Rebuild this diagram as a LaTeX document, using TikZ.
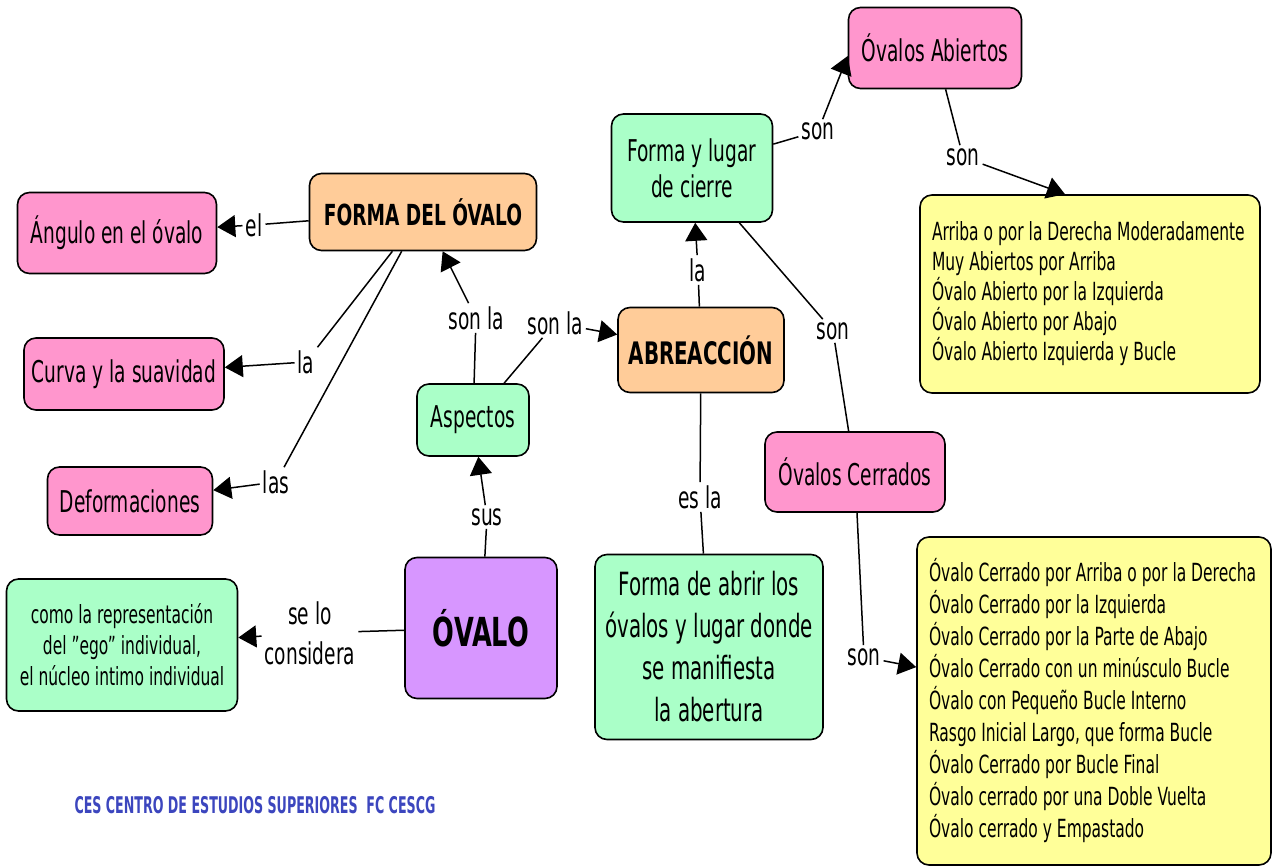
\documentclass[tikz,border=0pt]{standalone}
\usepackage{fontspec}
\setmainfont[FakeStretch = 0.62, BoldFeatures = {FakeStretch = 0.64}]{DejaVu Sans}
\newfontfamily\cesfont[FakeStretch = 0.55]{DejaVu Sans}
\usepackage{tikz}
\usetikzlibrary{arrows.meta}
\definecolor{cpink}{RGB}{255,150,205}
\definecolor{corange}{RGB}{255,204,153}
\definecolor{cgreen}{RGB}{170,255,200}
\definecolor{cpurple}{RGB}{215,150,255}
\definecolor{cyellow}{RGB}{255,255,153}
\definecolor{cblue}{RGB}{60,70,190}
\tikzset{box/.style = {draw, rounded corners = 12pt, line width = 1.6pt, inner sep = 0, align = center, font = \fontsize{30}{36}\selectfont}}
\tikzset{pinkbox/.style = {box, fill = cpink}}
\tikzset{orangebox/.style = {box, fill = corange, font = \fontsize{29}{34}\selectfont\bfseries}}
\tikzset{greenbox/.style = {box, fill = cgreen}}
\tikzset{listbox/.style = {box, fill = cyellow, align = flush left, font = \fontsize{25}{30}\selectfont}}
\tikzset{lbl/.style = {inner sep = 3pt, align = center, font = \fontsize{30}{40}\selectfont}}
\tikzset{link/.style = {line width = 1.5pt}}
\tikzset{tolink/.style = {link, -{Triangle[length = 18pt, width = 22pt]}}}

\begin{document}
\begin{tikzpicture}[x = 1pt, y = -1pt]
      \useasboundingbox (0, 0) rectangle (1274, 867);

      \node [pinkbox, minimum width = 199pt, minimum height = 81pt] (angulo) at (117, 233) {Ángulo en el óvalo};
      \node [orangebox, minimum width = 227pt, minimum height = 77pt] (forma) at (423, 212) {FORMA DEL ÓVALO};
      \node [pinkbox, minimum width = 200pt, minimum height = 72pt] (curva) at (124, 374) {Curva y la suavidad};
      \node [pinkbox, minimum width = 165pt, minimum height = 68pt] (deform) at (130, 501) {Deformaciones};
      \node [greenbox, minimum width = 112pt, minimum height = 72pt] (aspectos) at (473, 420) {Aspectos};
      \node [box, fill = cpurple, minimum width = 152pt, minimum height = 141pt, font = \fontsize{40}{46}\selectfont\bfseries] (ovalo) at (481, 628) {ÓVALO};
      \node [greenbox, minimum width = 231pt, minimum height = 132pt, font = \fontsize{25}{31}\selectfont] (ego) at (122, 645) {como la representación\\del "ego" individual,\\el núcleo intimo individual};
      \node [orangebox, minimum width = 166pt, minimum height = 85pt, font = \fontsize{31}{36}\selectfont\bfseries] (abre) at (701, 350) {ABREACCIÓN};
      \node [pinkbox, minimum width = 173pt, minimum height = 81pt] (abiertos) at (935, 48) {Óvalos Abiertos};
      \node [greenbox, minimum width = 161pt, minimum height = 108pt] (cierre) at (692, 168) {Forma y lugar\\de cierre};
      \node [pinkbox, minimum width = 180pt, minimum height = 80pt] (cerrados) at (855, 472) {Óvalos Cerrados};
      \node [greenbox, minimum width = 228pt, minimum height = 185pt, font = \fontsize{32}{42}\selectfont] (abrir) at (709, 647) {Forma de abrir los\\óvalos y lugar donde\\se manifiesta\\la abertura};
      \node [listbox, inner xsep = 12pt, text width = 316pt, minimum height = 198pt] (listab) at (1090, 294) {Arriba o por la Derecha Moderadamente\\Muy Abiertos por Arriba\\Óvalo Abierto por la Izquierda\\Óvalo Abierto por Abajo\\Óvalo Abierto Izquierda y Bucle};
      \node [listbox, inner xsep = 12pt, text width = 330pt, minimum height = 328pt, font = \fontsize{25}{32}\selectfont] (listcer) at (1094, 701) {Óvalo Cerrado por Arriba o por la Derecha\\Óvalo Cerrado por la Izquierda\\Óvalo Cerrado por la Parte de Abajo\\Óvalo Cerrado con un minúsculo Bucle\\Óvalo con Pequeño Bucle Interno\\Rasgo Inicial Largo, que forma Bucle\\Óvalo Cerrado por Bucle Final\\Óvalo cerrado por una Doble Vuelta\\Óvalo cerrado y Empastado};
      \node [text = cblue, font = \fontsize{23}{28}\selectfont\cesfont\bfseries] (ces) at (255, 805) {CES CENTRO DE ESTUDIOS SUPERIORES\ \ FC CESCG};

      \node [lbl] (lel) at (254, 225) {el};
      \node [lbl] (llacurva) at (306, 362) {la};
      \node [lbl] (llas) at (276, 482) {las};
      \node [lbl] (lsonforma) at (476, 318) {son la};
      \node [lbl] (lsonabre) at (555, 323) {son la};
      \node [lbl] (lsus) at (487, 517) {sus};
      \node [lbl] (lse) at (310, 633) {se lo\\considera};
      \node [lbl] (llacierre) at (698, 270) {la};
      \node [lbl] (lsonab) at (818, 131) {son};
      \node [lbl] (lsonlist) at (963, 157) {son};
      \node [lbl] (lsonce) at (833, 331) {son};
      \node [lbl] (lesla) at (700, 497) {es la};
      \node [lbl] (lsoncer) at (864, 657) {son};

      \draw [link] (forma) -- (lel);
      \draw [tolink] (lel) -- (angulo);
      \draw [link] (forma) -- (llacurva);
      \draw [tolink] (llacurva) -- (curva);
      \draw [link] (forma) -- (llas);
      \draw [tolink] (llas) -- (deform);
      \draw [link] (aspectos) -- (lsonforma);
      \draw [tolink] (lsonforma) -- (forma);
      \draw [link] (aspectos) -- (lsonabre);
      \draw [tolink] (lsonabre) -- (abre);
      \draw [link] (ovalo) -- (lsus);
      \draw [tolink] (lsus) -- (aspectos);
      \draw [link] (ovalo) -- (lse);
      \draw [tolink] (lse) -- (ego);
      \draw [link] (abre) -- (llacierre);
      \draw [tolink] (llacierre) -- (cierre);
      \draw [link] (cierre) -- (lsonab);
      \draw [tolink] (lsonab) -- ([yshift = -8pt] abiertos.west);
      \draw [link] (abiertos) -- (lsonlist);
      \draw [tolink] (lsonlist) -- ([xshift = -25pt] listab.north);
      \draw [link] (cierre) -- (lsonce);
      \draw [link] (lsonce) -- (cerrados);
      \draw [link] (abre) -- (lesla);
      \draw [link] (lesla) -- (abrir);
      \draw [link] (cerrados) -- (lsoncer);
      \draw [tolink] (lsoncer) -- (listcer);
    \end{tikzpicture}
\end{document}
